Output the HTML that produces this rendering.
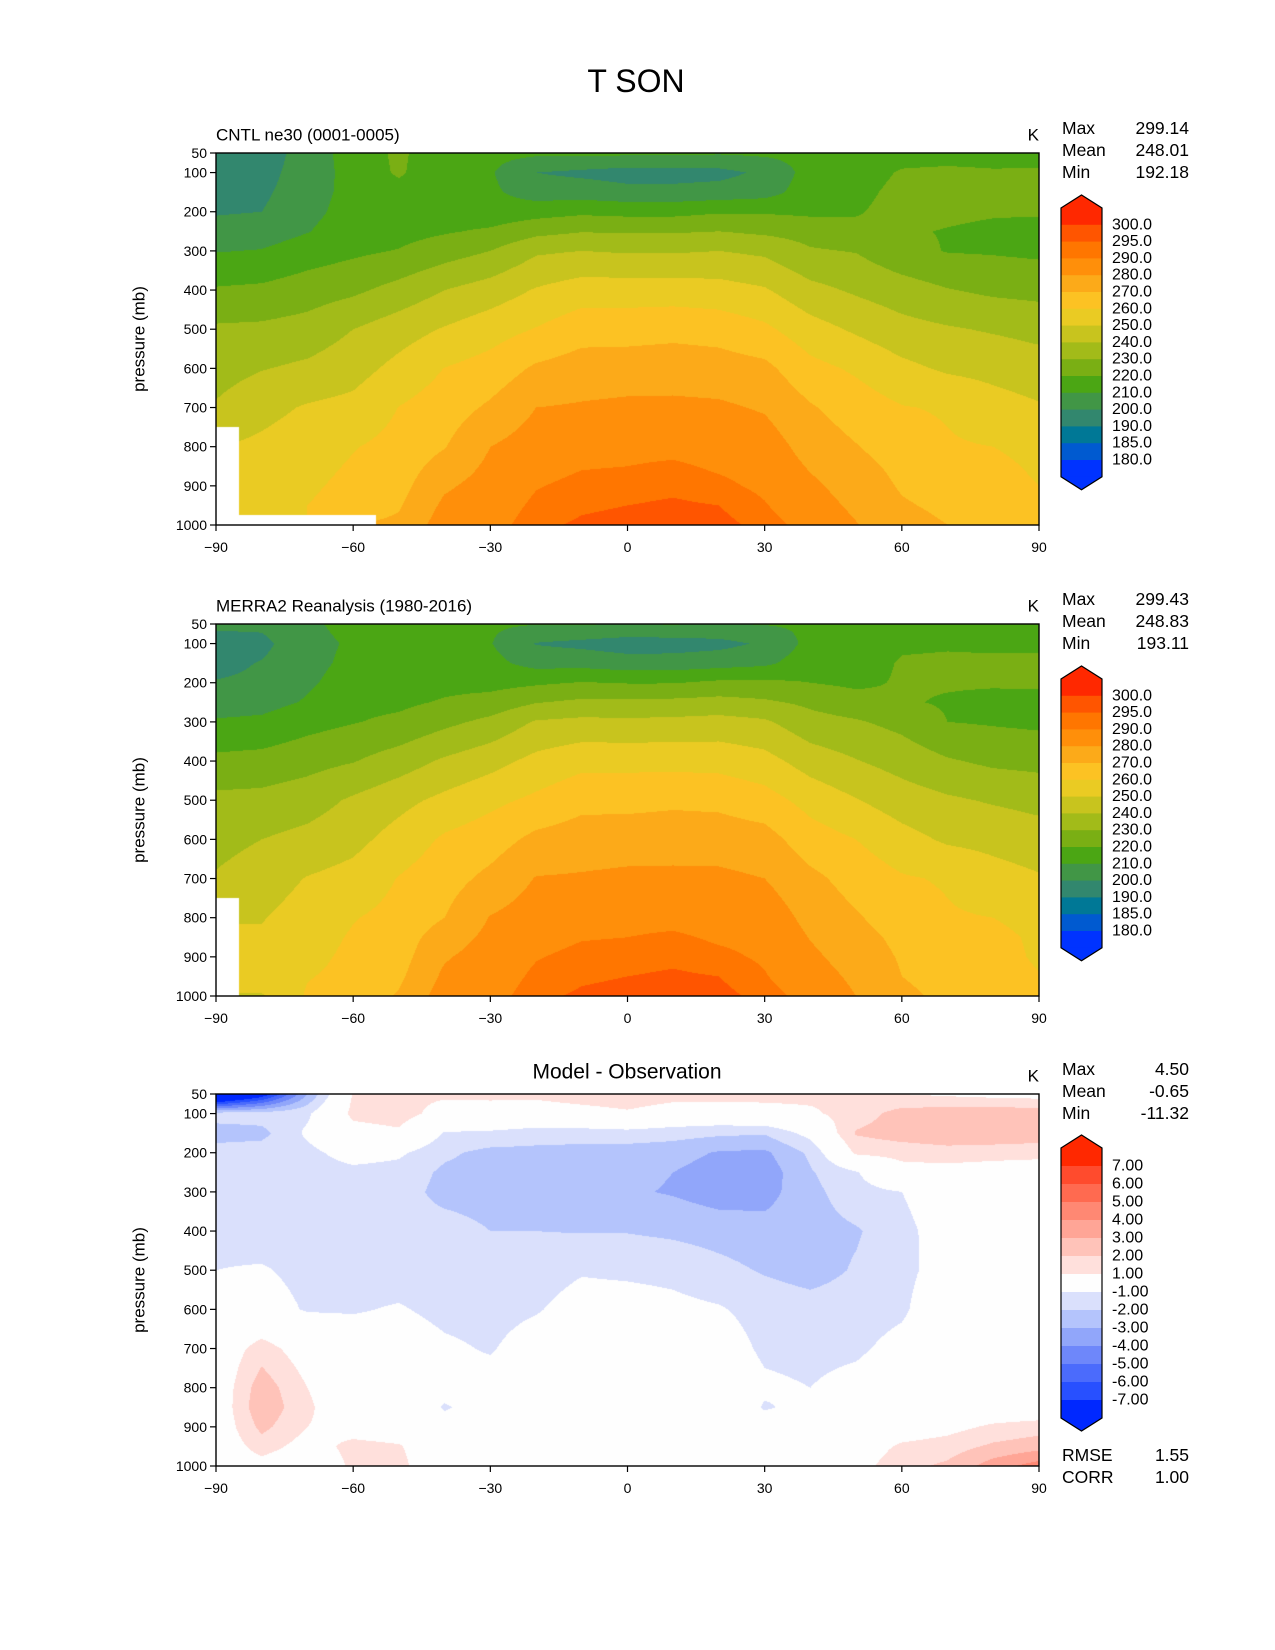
<!DOCTYPE html>
<html><head><meta charset="utf-8"><style>
html,body{margin:0;padding:0;background:#fff;}
#root{position:relative;width:1275px;height:1650px;overflow:hidden;font-family:"Liberation Sans","DejaVu Sans",sans-serif;}
canvas{position:absolute;}
svg{position:absolute;left:0;top:0;}
</style></head><body>
<div id="root">
<canvas id="c1" width="823" height="372" style="left:216px;top:153px"></canvas>
<canvas id="c2" width="823" height="372" style="left:216px;top:624px"></canvas>
<canvas id="c3" width="823" height="372" style="left:216px;top:1094px"></canvas>
<svg id="svg" width="1275" height="1650"></svg>
</div>
<script>
const LATS = [-90,-80,-70,-60,-50,-40,-30,-20,-10,0,10,20,30,40,50,60,70,80,90];
const LEVELS = [50,100,150,200,250,300,400,500,600,700,800,850,900,950,1000];
const N = null;
const modelT = [
[192,193,195,199,204,209.5,221,231.5,236,241,N,N,N,N,N],
[194,196,198,200,205,210.5,222,232,239.5,247,252,254,256,257,N],
[205,205.5,206,207,209.5,215,225,234,242,251,255,257,258.5,260,N],
[214,213,213,214,216,218,228,240,246,253,259.5,261,262.5,264,N],
[222,221.5,216,214,216.5,220.5,233.5,245.5,253,260.2,263,265,266.5,269,272],
[213,212,213,215,219,225.4,240,250.8,260.2,265,269.5,274,278.5,282,285],
[213,211,212,214,221.5,230,244.6,255.7,264,271.6,280,282,284,285.5,287],
[212,200,205,216,227,238.5,250.8,260.5,271.5,280,284.7,287,289.5,291.5,293.5],
[212,198,205,218,229.5,240,255,266,274.5,281,287,289.5,292,294,296],
[212,196,203,217,229,239,255,266,275,282,288,290,292.5,295,297],
[212,196,203,217,229,239,255,267,275.5,282,288,291,293.5,296,298.5],
[211,197,204,219,230,240,254,266,274.5,281.5,287,289,291.5,295,297],
[212,202,206,219,228,238,251,262,272.5,279,285,287,288.5,290.5,293],
[213,214,215,218,226,231,243,254,263,271,276,279,282,284.5,287],
[214,215,217,219,223,229.5,238.5,248.5,258.5,265,270.5,273,275.5,278,280.5],
[216,221,223,224,221,223,234.5,243.5,252.5,260.5,265,267.5,269,271,273.5],
[216,222,223,222,219.5,219.5,230.5,241,248.5,259,261,263.5,266,268,270],
[216,221,222,221,218,219,228,239,247,254,260,263,265,267,269],
[217,221,222,221,217,218,227,237,244.5,251,256,258,260,263,265]
];
const obsT = [
[203,194.5,197.5,200.5,205.5,211,222.5,232.5,236.5,241,N,N,N,N,N],
[202,197.5,200.5,201.5,206.5,212,223.5,233,240,245.5,249.5,251,253.5,255.5,249],
[208,206.5,207,208.5,211,216.5,226.5,235.5,243,250.5,254,256,257.5,259.5,261],
[213.5,211.5,212.5,214.5,217.5,219.5,229.5,241.5,247,253.5,259.5,261,262,262.5,264],
[214,213.5,214,215,218,222,235,247,254,260.5,263,265,266,268,271],
[212,211.5,214,217,221,227.5,241.5,252.5,261.5,266,270,275,279,282,285],
[211.5,210.5,213,216.5,224,232.5,246.5,257.5,265.5,272.5,280.5,282.5,284.5,285.5,287],
[210.5,199.5,206.5,218.5,229.5,241,252.8,262,272.5,280.5,284.7,287,289.5,291.5,293.5],
[210.5,197.5,206.5,220.5,232,242.5,257,267,275,281,287,289.5,292,294,296],
[210,195,204.5,219.5,232,242,257,267,275.5,282,288,290,292.5,295,297],
[210.5,195.5,204.5,219.5,232.5,242.5,257,268,276,282,288,291,293.5,296,298.5],
[209.5,197,206,222,233.5,243.5,256.5,267.5,275.5,282,287,289,291.5,295,297],
[210.5,201.5,208,222,231.5,241.5,253.5,264,274,280,286,288,289,290.5,293],
[211.5,213,215.5,220,228,233.5,245.5,256.5,264.5,272.5,277,279.5,282,284.5,287],
[213,213.5,215,218,224,231,240.5,250.5,260,266,271,273.5,275.5,278,280],
[215,218.5,221,221,221,227,236,245,253.5,261,265,267.5,269,270,272],
[215,219,221.5,221,219,220,231,241.5,248.5,259,261,263.5,265.5,266.5,268],
[215.5,218.5,221.5,221,217.5,219,228,239,247,254,260,263,264,265,265.5],
[216.5,218.5,221.5,221.5,217,218,227,237,244.5,251,256,258,258.5,260.5,260.5]
];
const diffT = [
[-11,-1.5,-2.5,-1.5,-1.5,-1.5,-1.3,-1.0,-0.5,0,0,0,0,0,0],
[-8,-1.5,-2.3,-1.5,-1.5,-1.5,-1.5,-0.9,-0.5,1.5,2.6,2.8,2.3,1.5,0.5],
[-3,-1.2,-0.8,-1.3,-1.5,-1.5,-1.5,-1.3,-1.1,0.3,1.0,1.2,1.0,0.5,0],
[1.1,1.3,0.5,-0.5,-1.3,-1.5,-1.5,-1.4,-1.1,-0.3,0,0,0.5,1.3,1.2],
[1.2,1.5,0.8,-0.8,-1.4,-1.6,-1.7,-1.5,-0.9,-0.3,0,0,0.3,1.1,1.3],
[1.2,0.5,-1.1,-1.8,-2.2,-2.3,-1.6,-1.5,-1.3,-0.8,-0.6,-1.1,-0.6,0,0],
[1.3,0.4,-1.2,-2.3,-2.4,-2.4,-2.0,-1.6,-1.4,-1.1,-0.5,-0.5,-0.3,0,0],
[1.3,0.3,-1.5,-2.3,-2.5,-2.5,-2.0,-1.5,-1.1,-0.4,0,0,0,0,0],
[1.6,0.5,-1.5,-2.4,-2.6,-2.6,-2.05,-1.1,-0.5,0,0,0,0,0,0],
[1.8,0.8,-1.4,-2.5,-2.7,-2.85,-2.05,-1.2,-0.5,0,0,0,0,0,0],
[1.5,0.3,-1.6,-2.6,-3.0,-3.1,-2.2,-1.3,-0.7,0,0,0,0,0,0],
[1.5,0.2,-1.8,-3.1,-3.5,-3.5,-2.4,-1.7,-0.9,-0.4,0,0,0,0,0],
[1.4,0.5,-1.9,-3.2,-3.6,-3.4,-2.6,-2.1,-1.4,-1.2,-0.8,-1.1,-0.5,0,0],
[1.3,0.8,-0.6,-1.8,-2.1,-2.3,-2.4,-2.4,-1.6,-1.3,-1.0,-0.7,0,0,0],
[1.2,1.5,2.1,1.2,-1.1,-1.4,-2.1,-1.9,-1.5,-1.2,-0.6,-0.3,0,0.2,0.5],
[1.0,2.4,2.5,1.4,0.5,-1.0,-1.4,-1.3,-1.2,-0.6,0,0,0.2,1.2,1.7],
[0.8,2.6,2.7,1.6,0.5,0,-0.3,-0.5,0,0,0,0,0.6,1.5,2.2],
[0.6,2.7,2.7,1.5,0.3,0,0,0,0,0,0,0,1.2,2.2,3.5],
[0.5,2.6,2.6,1.4,0.2,0,0,0,0,0,0,0,1.5,2.6,4.5]
];
const tempLevels = [180,185,190,200,210,220,230,240,250,260,270,280,290,295,300];
const tempColors = ['#0033ff','#005ad0','#007896','#32876e','#419646','#4ba614','#7aaf14','#a2bb19','#c8c41e','#eacb23','#fcc223','#fcaa19','#ff8f0a','#ff7600','#ff5500','#ff2800'];
const tempLabels = ['300.0','295.0','290.0','280.0','270.0','260.0','250.0','240.0','230.0','220.0','210.0','200.0','190.0','185.0','180.0'];
const diffLevels = [-7,-6,-5,-4,-3,-2,-1,1,2,3,4,5,6,7];
const diffColors = ['#0028ff','#2850ff','#4b6bfc','#6e87fa','#91a6fa','#b4c4fc','#dae0fc','#fefefe','#ffe0dc','#ffc3b9','#ffa596','#ff8873','#ff6a50','#ff4b2d','#ff2800'];
const diffLabels = ['7.00','6.00','5.00','4.00','3.00','2.00','1.00','-1.00','-2.00','-3.00','-4.00','-5.00','-6.00','-7.00'];
const xTicks = [-90,-60,-30,0,30,60,90];
const yTicks = [50,100,200,300,400,500,600,700,800,900,1000];
const stats1 = ['299.14','248.01','192.18'];
const stats2 = ['299.43','248.83','193.11'];
const stats3 = ['4.50','-0.65','-11.32'];

const PW=823, PH=372, PX=216;
const panelsTop=[153,624,1094];
function xScale(lat){return PX+(lat+90)/180*PW;}
function yScale(p,top){return top+(p-50)/950*PH;}
function hexRgb(h){return [parseInt(h.slice(1,3),16),parseInt(h.slice(3,5),16),parseInt(h.slice(5,7),16)];}

function drawField(id,field,levels,colors){
  const cv=document.getElementById(id),ctx=cv.getContext('2d');
  const img=ctx.createImageData(PW,PH);
  const rgb=colors.map(hexRgb);
  for(let py=0;py<PH;py++){
    const p=50+950*(py+0.5)/PH;
    let j=0;while(j<LEVELS.length-2&&p>LEVELS[j+1])j++;
    const u=(p-LEVELS[j])/(LEVELS[j+1]-LEVELS[j]);
    const jn=u<0.5?j:j+1;
    for(let px=0;px<PW;px++){
      const lat=-90+180*(px+0.5)/PW;
      let i=Math.min(17,Math.floor((lat+90)/10));
      const t=(lat-LATS[i])/10;
      const inn=t<0.5?i:i+1;
      const o=(py*PW+px)*4;
      if(field[inn][jn]===null){img.data[o]=255;img.data[o+1]=255;img.data[o+2]=255;img.data[o+3]=255;continue;}
      const cs=[[field[i][j],(1-t)*(1-u)],[field[i+1][j],t*(1-u)],[field[i][j+1],(1-t)*u],[field[i+1][j+1],t*u]];
      let s=0,w=0;for(const c of cs){if(c[0]!==null){s+=c[0]*c[1];w+=c[1];}}
      const v=w>0?s/w:0;
      let k=0;while(k<levels.length&&v>=levels[k])k++;
      const c=rgb[k];
      img.data[o]=c[0];img.data[o+1]=c[1];img.data[o+2]=c[2];img.data[o+3]=255;
    }
  }
  ctx.putImageData(img,0,0);
}
drawField('c1',modelT,tempLevels,tempColors);
drawField('c2',obsT,tempLevels,tempColors);
drawField('c3',diffT,diffLevels,diffColors);

const NS='http://www.w3.org/2000/svg';
const svg=document.getElementById('svg');
function el(tag,attrs,parent){const e=document.createElementNS(NS,tag);for(const k in attrs)e.setAttribute(k,attrs[k]);(parent||svg).appendChild(e);return e;}
function txt(s,x,y,size,anchor,parent){const e=el('text',{x:x,y:y,'font-size':size,'text-anchor':anchor||'start','dominant-baseline':'central',fill:'#000','font-family':'Liberation Sans, DejaVu Sans, sans-serif'},parent);e.textContent=s;return e;}

const title=txt('T SON',636,81,32,'middle');



const titles=['CNTL ne30 (0001-0005)','MERRA2 Reanalysis (1980-2016)',null];
const statsAll=[stats1,stats2,stats3];
panelsTop.forEach((top,pi)=>{
  const g=el('g',{});
  
  
  const frame=el('rect',{x:PX,y:top,width:PW,height:PH,fill:'none',stroke:'#000','stroke-width':1.4},g);
  
  
  xTicks.forEach(v=>{
    const x=xScale(v);
    el('line',{x1:x,y1:top+PH,x2:x,y2:top+PH+6,stroke:'#000','stroke-width':1.2},g);
    const t=txt(v<0?'\u2212'+(-v):String(v),x,top+PH+22,14,'middle',g);
    
    
  });
  yTicks.forEach(v=>{
    const y=yScale(v,top);
    el('line',{x1:PX-6,y1:y,x2:PX,y2:y,stroke:'#000','stroke-width':1.2},g);
    const t=txt(String(v),PX-9,y,14,'end',g);
    
    
  });
  const yl=txt('pressure (mb)',0,0,17,'middle',g);
  yl.setAttribute('transform','translate(139,'+(top+PH/2)+') rotate(-90)');
  
  
  if(titles[pi]){const t=txt(titles[pi],PX,top-18,17,'start',g);}
  else{const t=txt('Model - Observation',627,top-22,21,'middle',g);}
  const ku=txt('K',1039,top-18,17,'end',g);
  
  
  const names=['Max','Mean','Min'];
  names.forEach((n,k)=>{
    const yy=top-25+k*22;
    const a=txt(n,1062,yy,17.5,'start',g);
    
    
    const b=txt(statsAll[pi][k],1189,yy,17.5,'end',g);
    
    
  });
  const cb=el('g',{},g);
  
  
  const isDiff=pi===2;
  const cols=isDiff?diffColors:tempColors;
  const labs=isDiff?diffLabels:tempLabels;
  const boxTop=isDiff?1148:top+55;
  const seg=isDiff?18:16.8;
  const n=cols.length;
  const x0=1061,x1=1102,xm=(x0+x1)/2;
  for(let k=0;k<n;k++){
    el('rect',{x:x0,y:boxTop+k*seg,width:x1-x0,height:seg+0.5,fill:cols[n-1-k]},cb);
  }
  el('polygon',{points:x0+','+boxTop+' '+xm+','+(boxTop-13)+' '+x1+','+boxTop,fill:cols[n-1]},cb);
  const bot=boxTop+n*seg;
  el('polygon',{points:x0+','+bot+' '+xm+','+(bot+13)+' '+x1+','+bot,fill:cols[0]},cb);
  el('polygon',{points:x0+','+boxTop+' '+xm+','+(boxTop-13)+' '+x1+','+boxTop+' '+x1+','+bot+' '+xm+','+(bot+13)+' '+x0+','+bot,fill:'none',stroke:'#000','stroke-width':1.2},cb);
  labs.forEach((l,k)=>{
    const t=txt(l,1112,boxTop+(k+1)*seg,16,'start',cb);
    
    
  });
});
[['RMSE','1.55',1455],['CORR','1.00',1477]].forEach(r=>{
  const a=txt(r[0],1062,r[2],17.5,'start');
  
  
  const b=txt(r[1],1189,r[2],17.5,'end');
  
  
});
</script>
</body></html>
